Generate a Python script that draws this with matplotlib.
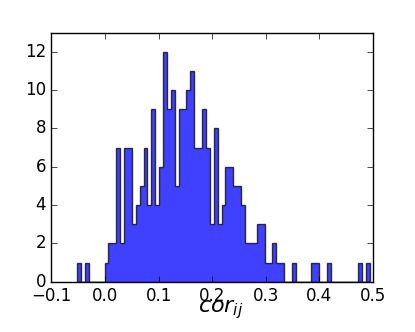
import numpy as np
import matplotlib
matplotlib.use("Agg")
from matplotlib import pyplot as plt

# histogram of correlation values, 75 bins between min and max
cor_min = -0.052
cor_max = 0.494
counts = [1, 0, 1, 0, 0, 0, 0, 1, 2, 2,
          7, 2, 7, 7, 3, 4, 5, 7, 4, 9,
          4, 6, 12, 9, 10, 5, 9, 9, 10, 11,
          7, 7, 9, 7, 3, 8, 3, 4, 6, 6,
          5, 5, 4, 2, 2, 2, 3, 3, 1, 1,
          2, 1, 1, 0, 0, 1, 0, 0, 0, 0,
          1, 1, 0, 0, 1, 0, 0, 0, 0, 0,
          0, 0, 1, 0, 1]

if __name__ == "__main__":
    plt.style.use("classic")
    plt.rcParams["mathtext.fontset"] = "dejavusans"

    edges = np.linspace(cor_min, cor_max, len(counts) + 1)

    fig = plt.figure(figsize=(4.15, 3.32), dpi=100)
    ax = fig.add_axes([0.124, 0.1515, 0.775, 0.75])
    ax.hist(edges[:-1], bins=edges, weights=counts, histtype="stepfilled",
            facecolor="blue", edgecolor="black", alpha=0.75, linewidth=1)
    ax.set_xlim(-0.1, 0.5)
    ax.set_ylim(0, 13)
    ax.set_xlabel(r"$cor_{ij}$", fontsize=16)
    ax.xaxis.set_label_coords(0.525, -0.065)
    fig.patch.set_facecolor("white")
    fig.savefig("out.png", dpi=100, facecolor="white")
